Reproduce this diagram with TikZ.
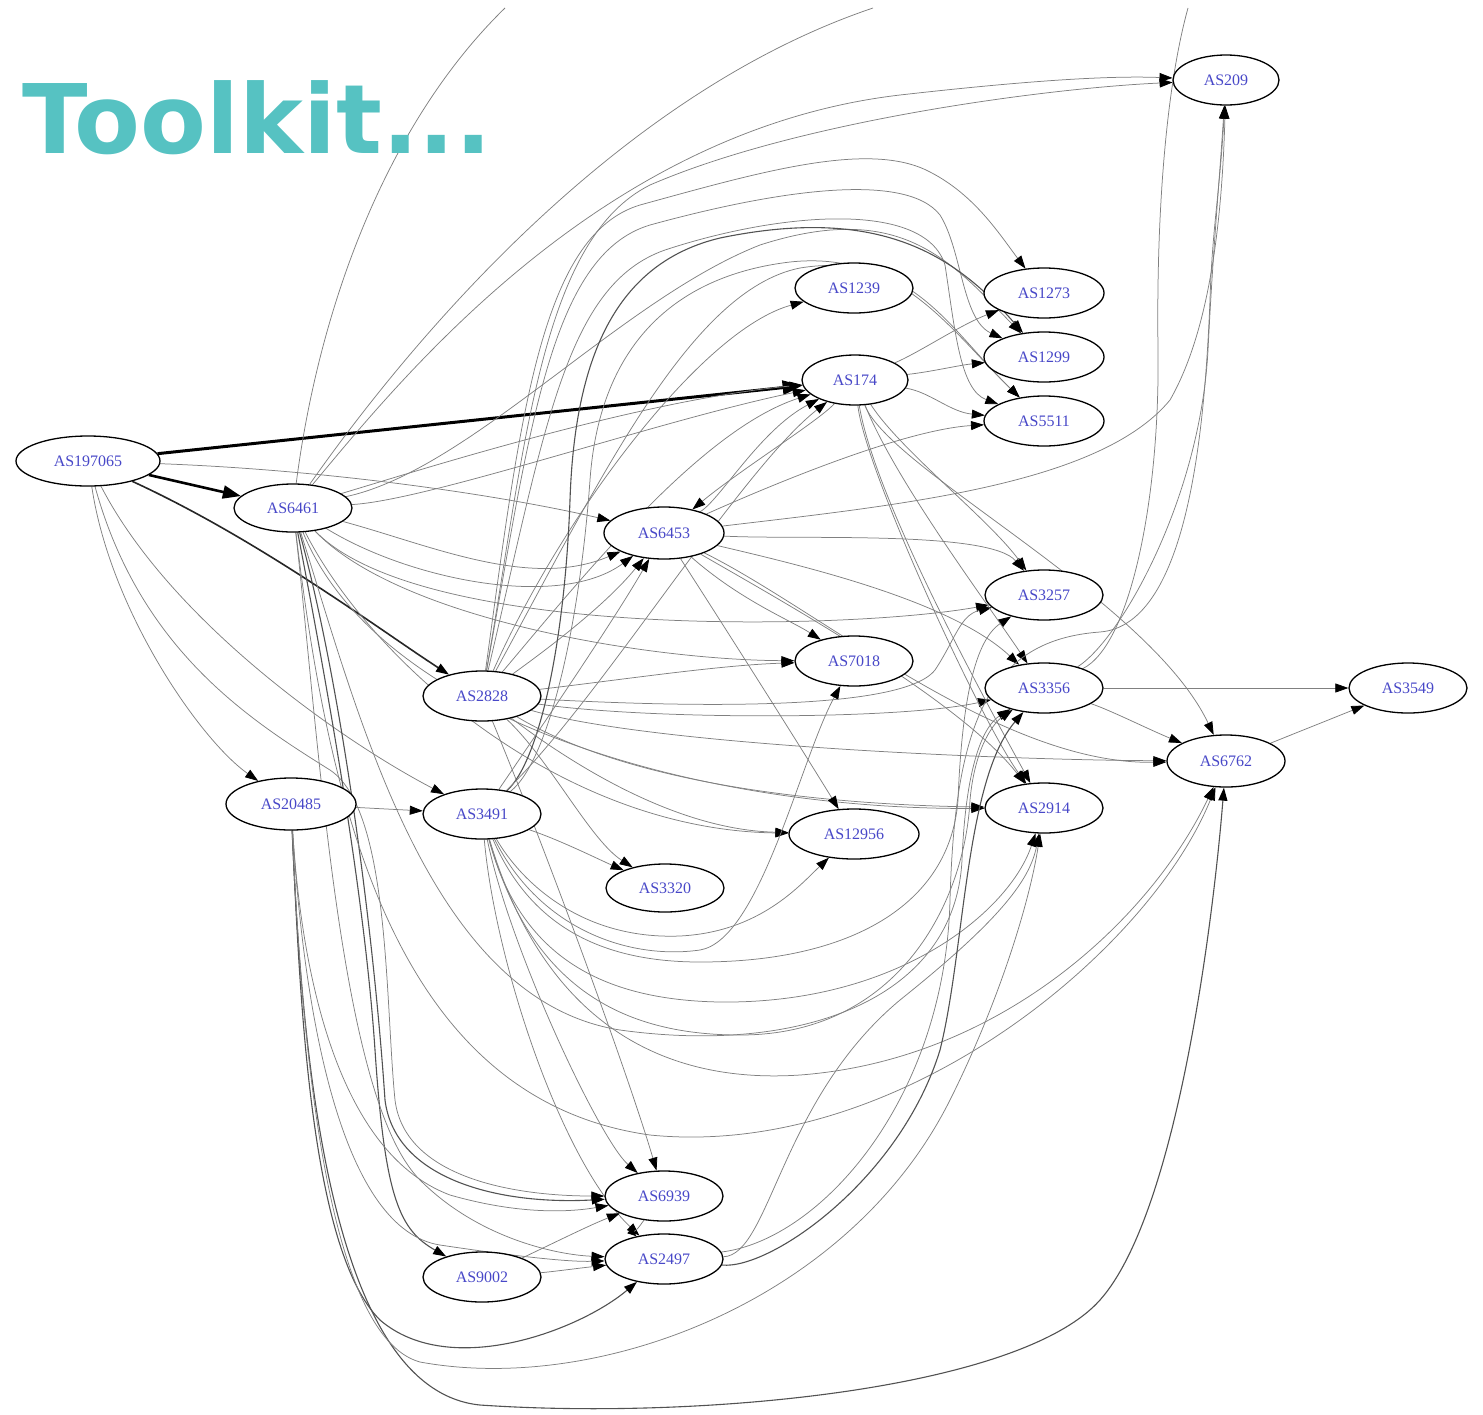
\documentclass[tikz,border=0pt]{standalone}
\usepackage{fontspec}
\usetikzlibrary{shapes.geometric,arrows.meta,backgrounds}
\newfontfamily\asfont{Liberation Serif}
\newfontfamily\headfont{DejaVu Sans}
\definecolor{asblue}{RGB}{72,72,200}
\definecolor{headteal}{RGB}{86,194,194}
\begin{document}
\begin{tikzpicture}[x=1pt,y=-1pt,
  asnode/.style={ellipse,draw=black,line width=1.3pt,fill=white,inner sep=0pt,
     minimum width=118pt,minimum height=50pt,
     font=\asfont\fontsize{16}{16}\selectfont,text=asblue},
  link/.style={draw=black!50,line width=0.75pt},
  arc/.style={link,-{Triangle[length=13pt,width=9pt,color=black]}},
  heavy/.style={arc,draw=black!68,line width=1.1pt},
]
\useasboundingbox (0,0) rectangle (1483,1414);

\node[anchor=base west,inner sep=0pt,text=headteal,
  font=\headfont\bfseries\fontsize{96}{96}\selectfont] (title) at (22,153) {Toolkit...};

% autonomous systems
\node[asnode,minimum width=144pt] (a197065) at (88,461) {AS197065};
\node[asnode,minimum height=48pt] (a6461) at (293,508) {AS6461};
\node[asnode,minimum width=120pt,minimum height=52pt] (a6453) at (664,533) {AS6453};
\node[asnode] (a2828) at (482,696) {AS2828};
\node[asnode,minimum width=130pt,minimum height=52pt] (a20485) at (291,804) {AS20485};
\node[asnode] (a3491) at (482,814) {AS3491};
\node[asnode,minimum height=48pt] (a3320) at (665,888) {AS3320};
\node[asnode,minimum width=130pt] (a12956) at (854,834) {AS12956};
\node[asnode] (a7018) at (854,661) {AS7018};
\node[asnode] (a1239) at (854,288) {AS1239};
\node[asnode,minimum width=106pt] (a174) at (855,380) {AS174};
\node[asnode,minimum width=120pt] (a1273) at (1044,293) {AS1273};
\node[asnode,minimum width=120pt] (a1299) at (1044,357) {AS1299};
\node[asnode,minimum width=120pt] (a5511) at (1044,421) {AS5511};
\node[asnode] (a3257) at (1044,595) {AS3257};
\node[asnode] (a3356) at (1044,688) {AS3356};
\node[asnode] (a2914) at (1044,808) {AS2914};
\node[asnode,minimum height=52pt] (a6762) at (1226,761) {AS6762};
\node[asnode] (a3549) at (1408,688) {AS3549};
\node[asnode,minimum width=106pt] (a209) at (1226,80) {AS209};
\node[asnode] (a6939) at (664,1196) {AS6939};
\node[asnode] (a2497) at (664,1259) {AS2497};
\node[asnode] (a9002) at (482,1277) {AS9002};

% links that leave the drawing at the top
\coordinate (up1) at (505,8);
\coordinate (up2) at (873,8);
\coordinate (up3) at (1188,8);

\begin{pgfonlayer}{background}
% AS197065
\draw[arc,draw=black,line width=3pt,-{Triangle[length=20pt,width=14pt,color=black]}] (a197065) -- (a174);
\draw[arc,draw=black,line width=2.6pt,-{Triangle[length=18pt,width=13pt,color=black]}] (a197065) -- (a6461);
\draw[heavy,draw=black!85,line width=1.6pt] (a197065) .. controls (260,540) and (380,630) .. (a2828);
\draw[arc] (a197065) .. controls (330,470) and (500,495) .. (a6453);
\draw[arc] (a197065) .. controls (110,610) and (200,740) .. (a20485);
\draw[arc] (a197065) .. controls (170,620) and (340,740) .. (a3491);
\draw[arc] (a197065) .. controls (140,650) and (250,720) .. (330,770) .. controls (390,810) and (385,1000) .. (395,1100) .. controls (405,1180) and (520,1196) .. (a6939);

% AS6461
\draw[arc] (a6461) .. controls (420,470) and (640,400) .. (a174);
\draw[arc] (a6461) .. controls (430,500) and (660,420) .. (a174);
\draw[arc] (a6461) .. controls (430,545) and (530,590) .. (a6453);
\draw[arc] (a6461) .. controls (410,580) and (560,610) .. (a6453);
\draw[arc] (a6461) .. controls (400,620) and (650,660) .. (a7018);
\draw[arc] (a6461) .. controls (420,640) and (850,630) .. (a3257);
\draw[arc] (a6461) .. controls (370,660) and (560,830) .. (a12956);
\draw[arc] (a6461) .. controls (380,720) and (700,810) .. (a2914);
\draw[link] (a6461) .. controls (320,300) and (390,120) .. (up1);
\draw[link] (a6461) .. controls (390,370) and (600,100) .. (up2);
\draw[arc] (a6461) .. controls (400,380) and (600,130) .. (900,95) .. controls (1050,78) and (1120,76) .. (a209);
\draw[arc] (a6461) .. controls (470,470) and (620,300) .. (760,245) .. controls (900,200) and (950,260) .. (a1299);
\draw[heavy] (a6461) .. controls (330,700) and (365,900) .. (375,1050) .. controls (385,1200) and (400,1230) .. (a9002);
\draw[heavy] (a6461) .. controls (345,700) and (375,950) .. (385,1100) .. controls (395,1180) and (500,1205) .. (a6939);
\draw[arc] (a6461) .. controls (320,750) and (340,1100) .. (420,1180) .. controls (480,1240) and (560,1255) .. (a2497);
\draw[arc] (a6461) .. controls (330,820) and (400,1100) .. (650,1135) .. controls (900,1160) and (1150,950) .. (a6762);
\draw[arc] (a6461) .. controls (360,720) and (430,1000) .. (620,1030) .. controls (800,1055) and (955,1000) .. (962,860) .. controls (966,760) and (985,725) .. (a3356);

% AS2828
\draw[arc] (a2828) .. controls (520,420) and (540,235) .. (640,205) .. controls (760,172) and (870,140) .. (930,172) .. controls (975,195) and (1000,235) .. (a1273);
\draw[arc] (a2828) .. controls (530,430) and (550,255) .. (650,225) .. controls (770,192) and (905,170) .. (940,215) .. controls (962,250) and (962,320) .. (a1299);
\draw[arc] (a2828) .. controls (545,430) and (565,285) .. (665,250) .. controls (780,212) and (925,200) .. (945,265) .. controls (955,330) and (960,390) .. (a5511);
\draw[arc] (a2828) .. controls (600,480) and (690,290) .. (800,268) .. controls (910,250) and (950,330) .. (a5511);
\draw[arc] (a2828) .. controls (560,520) and (700,330) .. (a1239);
\draw[arc] (a2828) .. controls (525,450) and (540,240) .. (650,185) .. controls (800,120) and (1050,88) .. (a209);
\draw[arc] (a2828) .. controls (580,580) and (700,430) .. (a174);
\draw[arc] (a2828) .. controls (560,640) and (610,600) .. (a6453);
\draw[arc] (a2828) .. controls (620,680) and (720,665) .. (a7018);
\draw[arc] (a2828) .. controls (650,720) and (900,720) .. (a3356);
\draw[arc] (a2828) .. controls (650,745) and (1000,760) .. (a6762);
\draw[arc] (a2828) .. controls (580,770) and (680,830) .. (a12956);
\draw[arc] (a2828) .. controls (640,790) and (850,805) .. (a2914);
\draw[arc] (a2828) .. controls (550,760) and (590,840) .. (a3320);
\draw[arc] (a2828) .. controls (550,860) and (630,1080) .. (a6939);
\draw[arc] (a2828) .. controls (650,705) and (900,715) .. (935,670) .. controls (955,640) and (960,615) .. (a3257);

% AS3491
\draw[heavy] (a3491) .. controls (540,760) and (565,640) .. (570,500) .. controls (575,350) and (620,262) .. (720,238) .. controls (880,205) and (955,255) .. (a1299);
\draw[arc] (a3491) .. controls (550,760) and (580,620) .. (590,480) .. controls (600,340) and (680,275) .. (790,262) .. controls (900,250) and (950,330) .. (a5511);
\draw[arc] (a3491) .. controls (560,700) and (620,610) .. (a6453);
\draw[arc] (a3491) .. controls (600,700) and (740,470) .. (a174);
\draw[arc] (a3491) .. controls (560,840) and (600,860) .. (a3320);
\draw[arc] (a3491) .. controls (540,930) and (630,960) .. (700,950) .. controls (760,940) and (800,760) .. (a7018);
\draw[arc] (a3491) .. controls (520,880) and (580,940) .. (680,936) .. controls (760,932) and (800,885) .. (a12956);
\draw[arc] (a3491) .. controls (530,925) and (600,962) .. (700,962) .. controls (850,962) and (950,905) .. (958,800) .. controls (962,700) and (975,640) .. (a3257);
\draw[arc] (a3491) .. controls (520,955) and (600,1000) .. (720,1002) .. controls (900,1004) and (1010,910) .. (a2914);
\draw[arc] (a3491) .. controls (530,985) and (620,1035) .. (740,1035) .. controls (900,1035) and (965,900) .. (970,800) .. controls (975,745) and (995,722) .. (a3356);
\draw[arc] (a3491) .. controls (510,950) and (600,1140) .. (a6939);
\draw[arc] (a3491) .. controls (495,960) and (560,1160) .. (a2497);
\draw[arc] (a3491) .. controls (540,1010) and (650,1085) .. (800,1075) .. controls (1000,1060) and (1150,920) .. (a6762);

% AS20485
\draw[arc] (a20485) -- (a3491);
\draw[heavy] (a20485) .. controls (300,1000) and (310,1250) .. (380,1320) .. controls (450,1380) and (580,1330) .. (a2497);
\draw[heavy] (a20485) .. controls (302,1060) and (330,1390) .. (480,1405) .. controls (700,1420) and (1020,1390) .. (1100,1300) .. controls (1180,1210) and (1215,900) .. (a6762);
\draw[arc] (a20485) .. controls (300,1000) and (320,1335) .. (420,1362) .. controls (600,1395) and (850,1300) .. (950,1100) .. controls (1000,1000) and (1030,900) .. (a2914);
\draw[arc] (a20485) .. controls (300,950) and (330,1150) .. (450,1195) .. controls (520,1215) and (570,1212) .. (a6939);
\draw[arc] (a20485) .. controls (305,1030) and (345,1230) .. (440,1245) .. controls (520,1257) and (570,1262) .. (a2497);

% AS6453
\draw[arc] (a6453) .. controls (720,500) and (760,430) .. (a174);
\draw[arc] (a6453) .. controls (760,490) and (900,430) .. (a5511);
\draw[arc] (a6453) .. controls (900,505) and (1100,485) .. (1170,400) .. controls (1210,330) and (1222,220) .. (a209);
\draw[arc] (a6453) .. controls (740,600) and (790,620) .. (a7018);
\draw[arc] (a6453) .. controls (800,540) and (990,530) .. (a3257);
\draw[arc] (a6453) .. controls (720,620) and (790,730) .. (a12956);
\draw[arc] (a6453) .. controls (800,565) and (950,600) .. (a3356);
\draw[arc] (a6453) .. controls (820,610) and (1000,765) .. (a6762);
\draw[arc] (a6453) .. controls (780,600) and (960,700) .. (a2914);

% AS174
\draw[arc] (a174) .. controls (930,372) and (960,365) .. (a1299);
\draw[arc] (a174) .. controls (930,392) and (950,412) .. (a5511);
\draw[arc] (a174) .. controls (920,352) and (960,325) .. (a1273);
\draw[arc] (a174) .. controls (900,450) and (990,520) .. (a3257);
\draw[arc] (a174) .. controls (895,480) and (985,600) .. (a3356);
\draw[arc] (a174) .. controls (875,500) and (985,700) .. (a2914);
\draw[arc] (a174) .. controls (865,470) and (980,720) .. (a2914);
\draw[arc] (a174) .. controls (890,470) and (1150,600) .. (a6762);
\draw[arc] (a174) .. controls (820,420) and (740,470) .. (a6453);

% AS3356 and AS6762
\draw[arc] (a3356) -- (a3549);
\draw[arc] (a3356) .. controls (1110,710) and (1150,730) .. (a6762);
\draw[arc] (a3356) .. controls (1120,640) and (1200,500) .. (1208,350) .. controls (1213,250) and (1218,200) .. (a209);
\draw[link] (a3356) .. controls (1130,645) and (1160,500) .. (1158,350) .. controls (1156,200) and (1168,80) .. (up3);
\draw[arc] (a6762) -- (a3549);

% lower part
\draw[arc] (a9002) .. controls (550,1272) and (580,1268) .. (a2497);
\draw[arc] (a9002) .. controls (560,1240) and (590,1225) .. (a6939);
\draw[arc,-{Triangle[length=9pt,width=7pt,color=black]}] (a6939) .. controls (640,1225) and (635,1235) .. (a2497);
\draw[arc] (a2497) .. controls (770,1255) and (780,1100) .. (900,1000) .. controls (1000,920) and (1030,880) .. (a2914);
\draw[heavy] (a2497) .. controls (770,1270) and (900,1180) .. (940,1050) .. controls (965,950) and (965,780) .. (a3356);
\draw[arc] (a2497) .. controls (820,1240) and (945,1100) .. (950,900) .. controls (955,720) and (990,640) .. (1100,632) .. controls (1190,625) and (1205,420) .. (1210,300) .. controls (1212,230) and (1220,190) .. (a209);
\end{pgfonlayer}
\end{tikzpicture}
\end{document}
